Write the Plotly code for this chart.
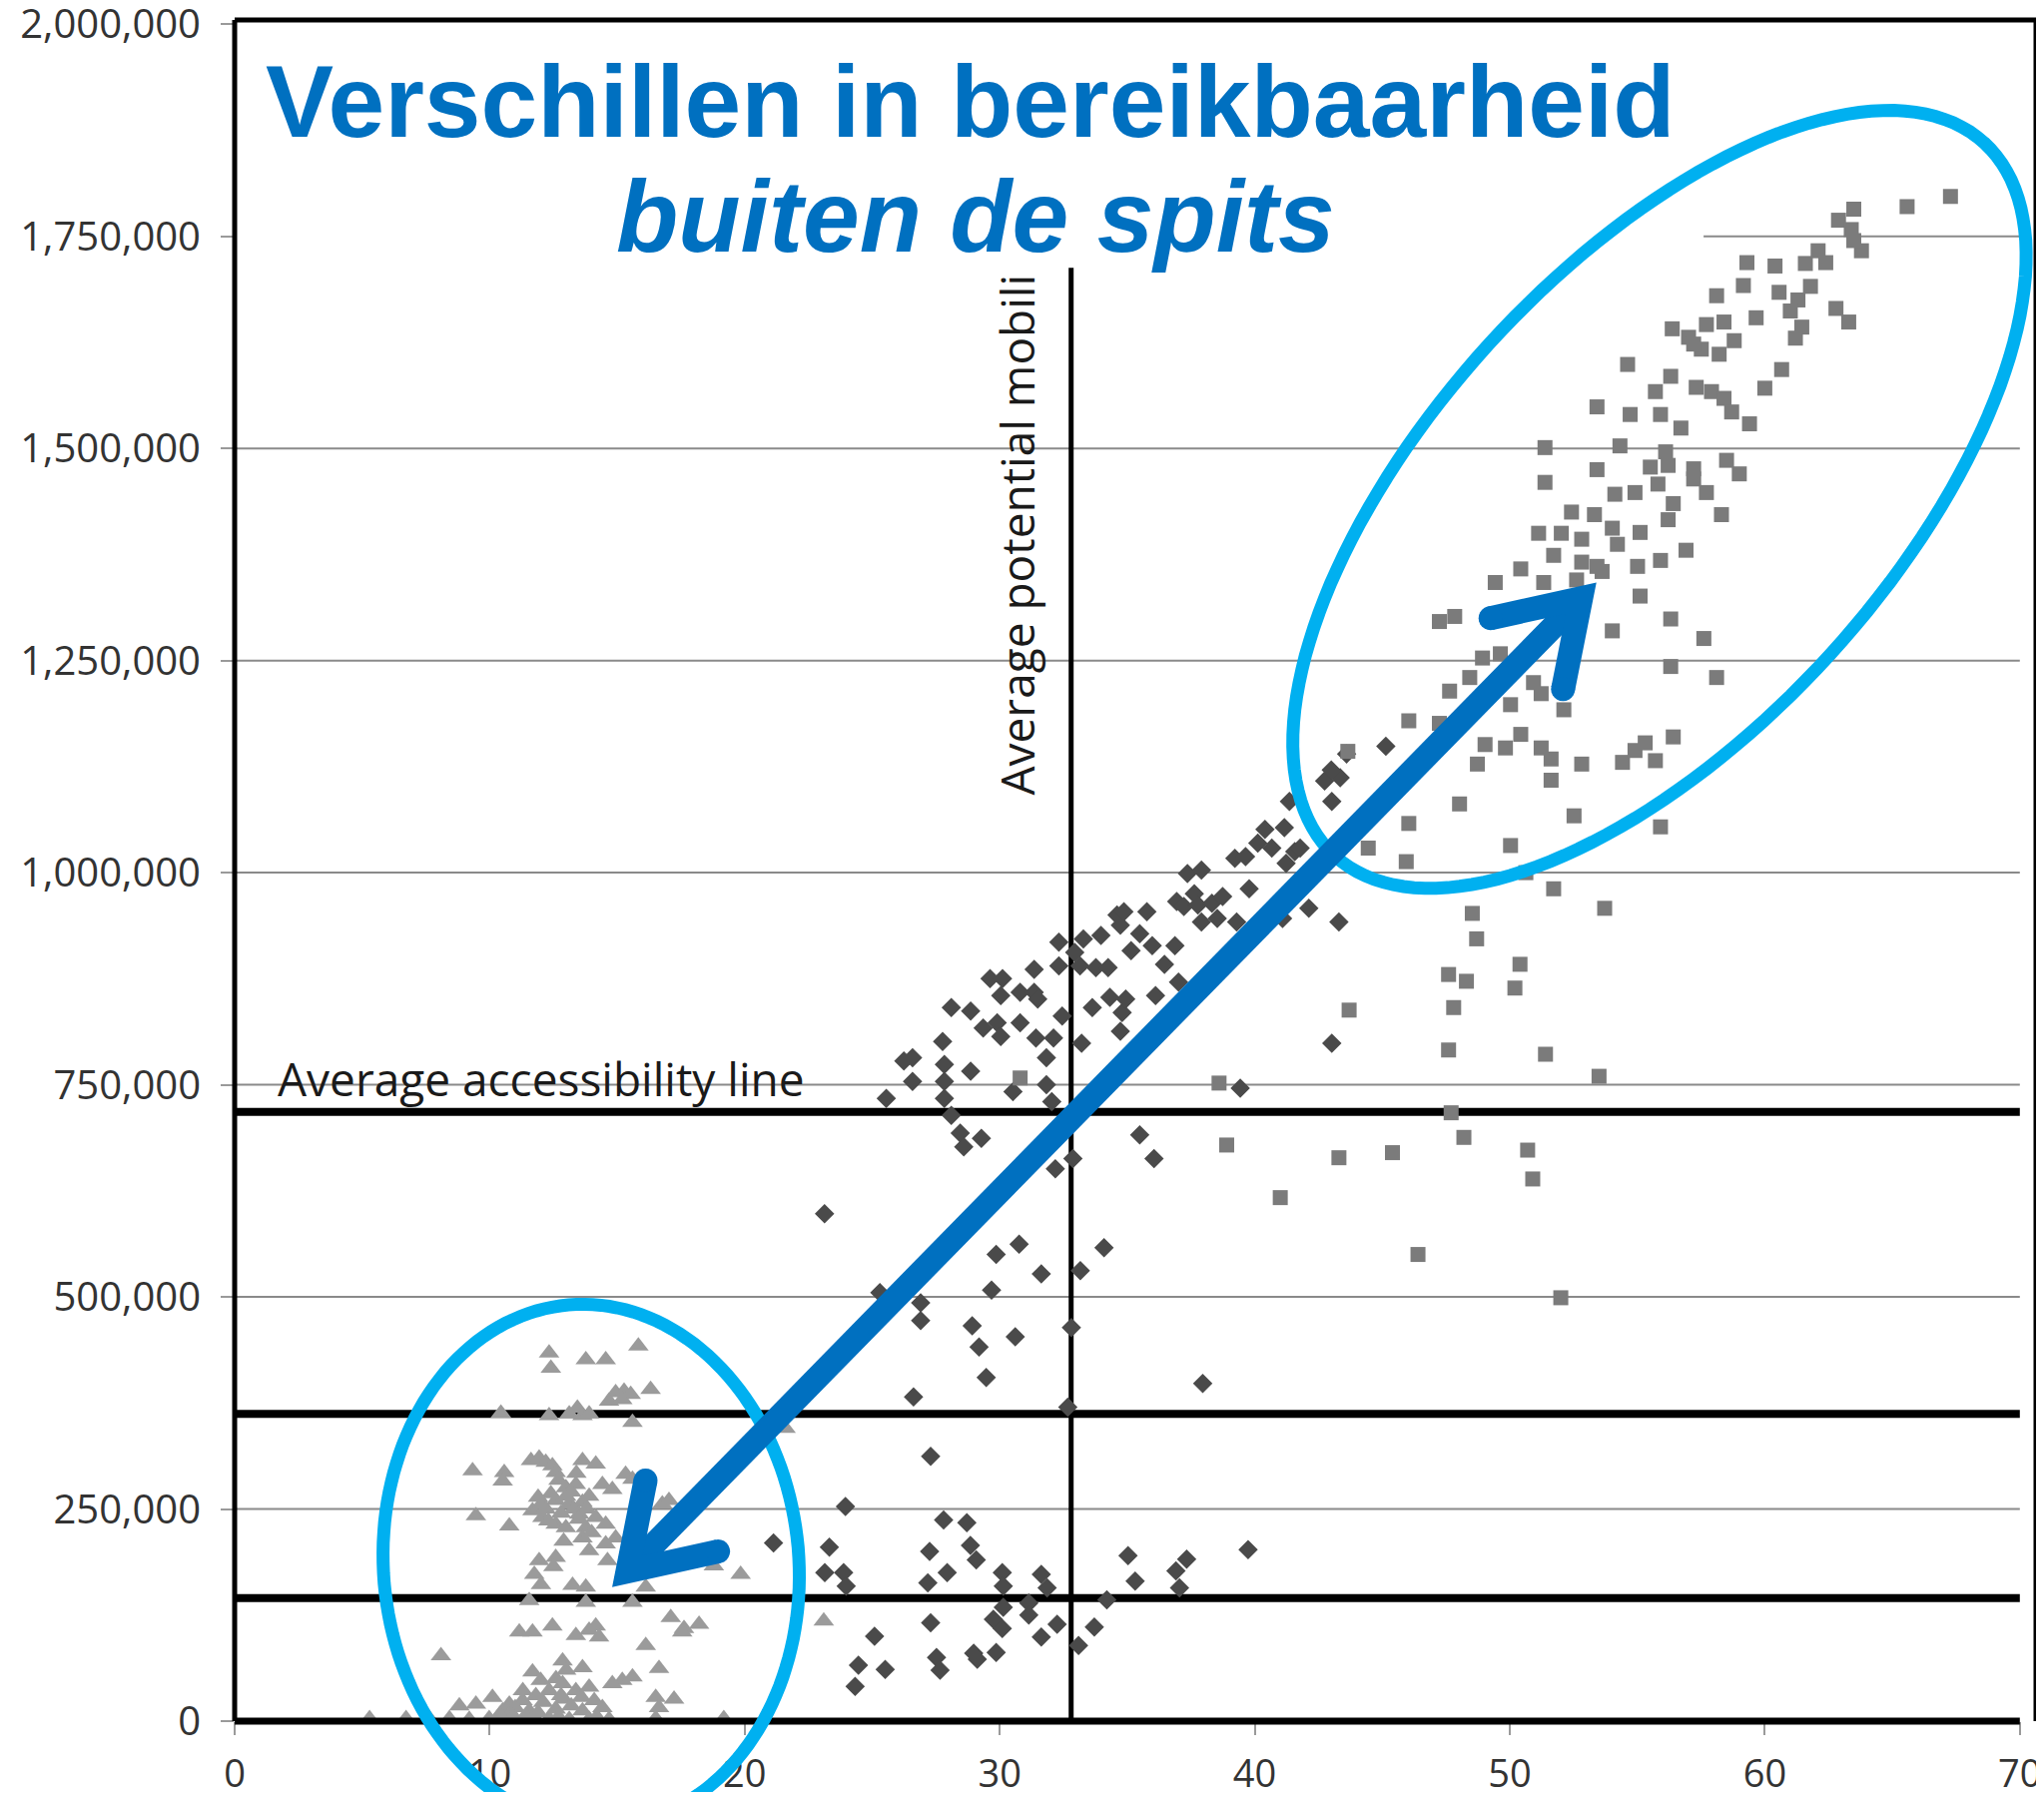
import math

import plotly.graph_objects as go

# ── Data (x = accessibility index, y in thousands of persons) ──────────────────
TRI_X = [12.33, 12.40, 13.77, 14.55, 15.83,
         16.31, 14.94, 15.27, 15.53, 14.68, 15.20,
         10.44, 12.33, 13.12, 13.44, 13.64, 13.90, 15.60,
         9.33, 10.57, 10.51, 11.62, 11.94, 12.20, 12.46, 12.59, 13.64, 14.16, 14.42, 14.81, 15.33, 15.60,
         9.46, 10.77, 11.68, 12.07, 12.59, 12.99, 13.38, 13.12, 13.64, 12.59, 12.99, 13.51, 13.77, 14.16,
         14.55, 13.64, 13.90, 14.55, 14.62, 14.94, 16.77, 17.03,
         11.94, 12.59, 11.75, 12.01, 13.25, 13.77, 11.55, 13.77, 15.60, 16.12, 18.79, 19.84,
         11.16, 11.68, 12.46, 13.38, 13.90, 14.16, 14.29, 16.12, 17.10, 17.62, 18.21, 17.55,
         8.09, 11.68, 12.86, 13.64, 15.20, 15.60, 16.64, 14.81,
         8.81, 9.46, 10.11, 10.77, 11.29, 11.81, 12.33, 12.86, 13.38, 13.90, 14.42, 10.51, 11.55, 12.59,
         13.64, 16.51, 17.23, 16.64,
         5.29, 6.72, 7.64, 8.42, 9.20, 9.98, 11.03, 11.81, 12.33, 13.12, 13.90, 14.68, 16.51, 19.18,
         12.2, 12.8, 13.3, 12.4, 13.0, 13.8, 12.0, 13.5, 14.0,
         10.4, 11.0, 11.9, 12.1, 12.9, 13.2, 13.6, 14.1, 12.6, 13.0, 12.8, 10.9, 11.4, 12.7, 14.2,
         23.1, 21.6,
         12.7, 13.2, 12.3, 13.9, 12.9, 11.9, 13.4, 12.5, 11.3, 12.0]
TRI_Y_K = [434, 416, 426, 426, 442,
           391, 387, 389, 385, 377, 379,
           363, 360, 362, 369, 360, 362, 352,
           295, 293, 283, 307, 310, 305, 301, 293, 307, 303, 279, 273, 291, 285,
           242, 230, 248, 240, 260, 275, 279, 256, 258, 232, 228, 244, 228, 240,
           232, 216, 201, 209, 189, 216, 256, 260,
           189, 193, 173, 161, 160, 158, 142, 140, 140, 158, 183, 173,
           105, 105, 112, 101, 107, 112, 99, 89, 122, 109, 114, 105,
           77, 58, 71, 63, 48, 52, 62, 44,
           18, 20, 28, 20, 24, 30, 36, 44, 36, 40, 16, 12, 12, 14,
           12, 28, 26, 16,
           3, 3, 3, 3, 2, 3, 2, 2, 3, 2, 2, 2, 3, 3,
           250, 245, 250, 268, 265, 250, 255, 238, 222,
           8, 16, 10, 22, 26, 18, 28, 24, 50, 60, 30, 5, 6, 5, 5,
           118, 345,
           284, 270, 236, 265, 212, 264, 292, 182, 36, 48]

DIA_X = [25.55, 26.24, 26.58, 26.58, 27.76, 27.83, 27.83, 27.83, 28.10, 28.10, 28.86, 28.86, 28.45,
         28.59, 29.28, 29.35, 29.62, 29.90, 30.04, 30.04, 30.11, 30.52, 30.80, 30.80, 31.35, 31.35,
         31.49, 31.42, 31.83, 31.83, 32.04, 32.11, 32.18, 32.32, 32.32, 32.45, 32.87, 32.94, 33.15,
         33.21, 33.28, 33.63, 33.77, 33.97, 34.25, 34.32, 34.60, 34.73, 34.80, 34.87, 34.73, 34.94,
         35.15, 35.49, 35.49, 35.77, 35.98, 36.05, 36.11, 36.46, 36.87, 37.01, 36.94, 37.22, 37.36,
         37.63, 37.77, 37.91, 37.91, 38.32, 38.53, 38.74, 39.22, 39.29, 39.64, 39.78, 40.12, 40.40,
         40.67, 41.16, 41.23, 41.57, 41.36, 41.78, 42.12, 42.74, 43.02, 43.02, 43.30, 39.43, 41.09,
         23.13, 45.14, 43.35, 43.6, 43.0,
         25.30, 26.90, 26.90, 28.92, 29.19, 29.47, 26.62, 29.68, 29.86, 30.76, 30.61, 31.63, 33.16,
         34.09, 32.81, 32.67, 37.96, 27.29, 23.95, 21.13, 23.32, 23.14, 23.88, 23.98, 27.25, 27.18,
         27.94, 27.80, 28.71, 28.85, 29.08, 30.10, 30.14, 30.14, 29.75, 30.10, 31.14, 31.14, 31.63,
         31.86, 32.25, 31.63, 33.09, 33.71, 34.20, 35.03, 35.31, 36.91, 37.33, 37.05, 39.74, 27.29,
         25.09, 24.46, 25.51, 24.33, 27.52, 27.66, 28.98, 29.12, 29.86]
DIA_Y_K = [734, 778, 782, 754, 801, 774, 754, 734, 714, 841, 837, 766, 693,
           677, 687, 817, 875, 823, 855, 807, 875, 742, 823, 859, 886, 859,
           851, 805, 782, 750, 730, 805, 651, 918, 890, 831, 663, 906, 890,
           799, 922, 841, 888, 926, 888, 853, 950, 938, 835, 954, 813, 851,
           908, 928, 691, 954, 914, 663, 855, 892, 914, 871, 966, 960, 999,
           975, 962, 1003, 942, 964, 946, 972, 1017, 942, 1019, 981, 1035, 1051,
           1029, 1053, 1011, 1025, 1084, 1029, 958, 1108, 1084, 799, 942, 746, 946,
           598, 1149, 1112, 1140, 1121,
           505, 493, 472, 466, 441, 405, 382, 508, 550, 562, 453, 527, 531,
           558, 464, 370, 398, 312, 253, 210, 205, 175, 175, 159, 200, 163,
           175, 237, 234, 207, 190, 175, 159, 134, 120, 109, 139, 125, 173,
           157, 114, 99, 89, 111, 143, 195, 165, 177, 191, 157, 202, 116,
           100, 66, 61, 41, 75, 60, 80, 73, 81]

SQ_X = [67.28, 65.58, 63.49, 62.89, 63.39, 63.79, 63.49, 59.30, 60.40, 61.59, 62.09, 62.39, 58.11,
        59.16, 60.56, 61.79, 61.30, 59.66, 61.00, 62.79, 63.29, 61.45, 61.20, 56.37, 57.01, 57.71,
        58.40, 58.80, 57.51, 58.21, 57.21, 54.62, 60.66, 60.00, 56.31, 55.71, 57.31, 57.91, 58.40,
        58.70, 59.40, 53.42, 54.72, 55.91, 56.71, 51.38, 54.32, 56.11, 55.51, 56.21, 57.21, 58.50,
        59.00, 53.42, 51.38, 55.81, 57.21, 57.71, 54.12, 54.91, 56.41, 56.21, 58.30, 52.42, 53.32,
        51.13, 52.02, 54.02, 55.11, 51.72, 52.82, 54.22, 53.42, 52.82, 53.62, 55.01, 55.91, 56.91,
        50.43, 49.43, 51.33, 52.62, 55.11, 47.24, 47.84, 56.31, 54.02, 57.61, 48.93, 49.63, 48.43,
        47.64, 50.93, 51.23, 52.12, 56.31, 58.11, 50.03, 46.04, 47.24, 43.65, 49.03, 49.83, 50.43,
        51.23, 51.62, 48.73, 52.82, 54.42, 54.91, 55.31, 56.41, 55.71, 51.62, 48.03, 46.04, 52.52,
        55.91, 44.45, 50.03, 45.94, 50.63, 51.72, 48.53, 53.72,
        48.7, 50.4, 47.6, 48.3, 50.2, 43.7, 47.8, 47.6, 51.4, 53.5, 47.7, 48.2, 38.9, 43.3, 45.4,
        50.7, 50.9, 41.0, 46.4, 52.0, 30.8, 38.6]
SQ_Y_K = [1797, 1785, 1782, 1769, 1758, 1733, 1745, 1719, 1715, 1718, 1733, 1719, 1680,
          1692, 1684, 1691, 1675, 1654, 1662, 1665, 1649, 1643, 1630, 1641, 1631, 1646,
          1649, 1627, 1617, 1611, 1623, 1599, 1593, 1571, 1585, 1567, 1572, 1567, 1559,
          1543, 1529, 1549, 1540, 1540, 1524, 1501, 1503, 1496, 1478, 1480, 1476, 1486,
          1470, 1475, 1460, 1458, 1464, 1448, 1446, 1448, 1435, 1416, 1422, 1425, 1422,
          1400, 1400, 1406, 1401, 1374, 1393, 1387, 1361, 1366, 1355, 1361, 1368, 1380,
          1358, 1342, 1342, 1345, 1326, 1296, 1302, 1299, 1285, 1276, 1253, 1258, 1230,
          1214, 1224, 1211, 1192, 1243, 1230, 1198, 1179, 1176, 1143, 1151, 1147, 1163,
          1147, 1134, 1128, 1128, 1130, 1144, 1153, 1160, 1132, 1109, 1081, 1058, 1067,
          1054, 1029, 1032, 1013, 1000, 981, 952, 958,
          922, 892, 880, 872, 864, 838, 841, 791, 786, 760, 717, 688, 679, 664, 670,
          673, 639, 617, 550, 499, 758, 752]

AVG_ACCESS = 718000            # "Average accessibility line"
BAND_LINES = [362000, 145000]  # other heavy horizontal lines
AVG_MOBILITY = 32.8            # "Average potential mobility" (vertical)
GRID_Y = [250000, 500000, 750000, 1000000, 1250000, 1500000, 1750000]
Y_TICKS = [0, 250000, 500000, 750000, 1000000, 1250000, 1500000, 1750000, 2000000]
X_TICKS = [0, 10, 20, 30, 40, 50, 60, 70]

# ── Style ──────────────────────────────────────────────────────────────────────
# the page body adds an 8px margin, so the figure is 16px smaller than the window
W, H = 2031, 1787
M_L, M_R, M_T, M_B = 227, 0, 12, 71
PLOT_W = W - M_L - M_R
PLOT_H = H - M_T - M_B
X_MAX = PLOT_W / 25.54
Y_MAX = 2005000

BLUE = "#0070C0"
CYAN = "#00B0F0"
GRID = "#8a8a8a"
TICK_FONT = dict(family="Open Sans", size=40, color="#333333")
LABEL_FONT = dict(family="Open Sans", size=46, color="#1a1a1a")


def px(x, y):
    """data -> pixel offsets from the plot's bottom-left corner (y up)."""
    return x / X_MAX * PLOT_W, y / Y_MAX * PLOT_H


def pix_shape(path, **line):
    return dict(type="path", path=path, xref="paper", yref="paper",
                xsizemode="pixel", ysizemode="pixel", xanchor=0, yanchor=0,
                layer="above", **line)


def ellipse_path(cx, cy, a, b, deg, n=160):
    cxp, cyp = px(cx, cy)
    th = math.radians(deg)
    pts = []
    for i in range(n):
        t = 2 * math.pi * i / n
        ex, ey = a * math.cos(t), b * math.sin(t)
        pts.append((cxp + ex * math.cos(th) - ey * math.sin(th),
                    cyp + ex * math.sin(th) + ey * math.cos(th)))
    return "M " + " L ".join(f"{x:.1f},{y:.1f}" for x, y in pts) + " Z"


def circle_path(x, y, r, n=24):
    return "M " + " L ".join(
        f"{x + r * math.cos(2 * math.pi * i / n):.1f},{y + r * math.sin(2 * math.pi * i / n):.1f}"
        for i in range(n)) + " Z"


fig = go.Figure()

fig.add_trace(go.Scatter(
    x=TRI_X, y=[v * 1000 for v in TRI_Y_K], mode="markers", cliponaxis=False,
    marker=dict(symbol="triangle-up", size=18, color="#9b9b9b", line=dict(width=0)),
    hoverinfo="skip", showlegend=False))
fig.add_trace(go.Scatter(
    x=DIA_X, y=[v * 1000 for v in DIA_Y_K], mode="markers", cliponaxis=False,
    marker=dict(symbol="diamond", size=15, color="#4a4a4a", line=dict(width=0)),
    hoverinfo="skip", showlegend=False))
fig.add_trace(go.Scatter(
    x=SQ_X, y=[v * 1000 for v in SQ_Y_K], mode="markers", cliponaxis=False,
    marker=dict(symbol="square", size=15, color="#7b7b7b", line=dict(width=0)),
    hoverinfo="skip", showlegend=False))

shapes = []

# thin gridlines (the top one is hidden behind the title box up to x≈57.6)
for g in GRID_Y:
    x0 = 57.6 if g == 1750000 else 0
    shapes.append(dict(type="line", xref="x", yref="y", x0=x0, x1=70, y0=g, y1=g,
                       line=dict(color=GRID, width=2), layer="below"))

# heavy reference lines
for yv in [AVG_ACCESS] + BAND_LINES:
    shapes.append(dict(type="line", xref="x", yref="y", x0=0, x1=70, y0=yv, y1=yv,
                       line=dict(color="black", width=8), layer="below"))
shapes.append(dict(type="line", xref="x", yref="y", x0=AVG_MOBILITY, x1=AVG_MOBILITY,
                   y0=0, y1=1713000, line=dict(color="black", width=5), layer="below"))

# frame
shapes += [
    dict(type="line", xref="paper", yref="paper", x0=0, x1=0, y0=0, y1=1,
         line=dict(color="black", width=5)),
    dict(type="line", xref="paper", yref="paper", x0=0, x1=1, y0=1, y1=1,
         line=dict(color="black", width=5)),
    dict(type="line", xref="paper", yref="paper", x0=1, x1=1, y0=0, y1=1,
         line=dict(color="black", width=5)),
    dict(type="line", xref="x", yref="paper", x0=0, x1=70, y0=0, y1=0,
         line=dict(color="black", width=7)),
]

# highlight ellipses
shapes.append(pix_shape(ellipse_path(55.87, 1440000, 483, 231, 47.7),
                        line=dict(color=CYAN, width=13)))
shapes.append(pix_shape(ellipse_path(13.98, 183500, 208, 262, 5),
                        line=dict(color=CYAN, width=13)))

# double-headed arrow (tips are the visible points; the miter join sticks out
# past the path vertex, so vertices sit a little behind the tips)
ARROW_FROM = (14.8, 158000)
ARROW_TO = (53.4, 1342000)
LW, MITER = 24, 22
ax0, ay0 = px(*ARROW_FROM)
ax1, ay1 = px(*ARROW_TO)
ang = math.atan2(ay1 - ay0, ax1 - ax0)
ux, uy = math.cos(ang), math.sin(ang)
v0 = (ax0 + MITER * ux, ay0 + MITER * uy)
v1 = (ax1 - MITER * ux, ay1 - MITER * uy)
shapes.append(pix_shape(
    f"M {v0[0] + 12 * ux:.1f},{v0[1] + 12 * uy:.1f} L {v1[0] - 12 * ux:.1f},{v1[1] - 12 * uy:.1f}",
    line=dict(color=BLUE, width=LW)))
HEAD_LEN, HEAD_ANG = 112, math.radians(27)
for (tx, ty), (vx, vy), d in [((ax1, ay1), v1, ang + math.pi), ((ax0, ay0), v0, ang)]:
    b1 = (tx + HEAD_LEN * math.cos(d + HEAD_ANG), ty + HEAD_LEN * math.sin(d + HEAD_ANG))
    b2 = (tx + HEAD_LEN * math.cos(d - HEAD_ANG), ty + HEAD_LEN * math.sin(d - HEAD_ANG))
    shapes.append(pix_shape(
        f"M {b1[0]:.1f},{b1[1]:.1f} L {vx:.1f},{vy:.1f} L {b2[0]:.1f},{b2[1]:.1f}",
        line=dict(color=BLUE, width=LW)))
    for bx, by in (b1, b2):
        shapes.append(pix_shape(circle_path(bx, by, LW / 2), fillcolor=BLUE,
                                line=dict(width=0)))

annotations = [
    dict(x=28.86, y=1909000, xref="x", yref="y", showarrow=False,
         text="<b>Verschillen in bereikbaarheid</b>",
         font=dict(family="Liberation Sans", size=102, color=BLUE),
         xanchor="center", yanchor="middle"),
    dict(x=29.05, y=1773000, xref="x", yref="y", showarrow=False,
         text="<b><i>buiten de spits</i></b>",
         font=dict(family="Liberation Sans", size=102, color=BLUE),
         xanchor="center", yanchor="middle"),
    dict(x=1.6, y=758000, xref="x", yref="y", showarrow=False,
         text="Average accessibility line", font=LABEL_FONT,
         xanchor="left", yanchor="middle"),
    dict(x=30.66, y=1089000, xref="x", yref="y", showarrow=False,
         text="Average potential mobili", textangle=-90, font=LABEL_FONT,
         xanchor="center", yanchor="bottom"),
]

fig.update_layout(
    width=W, height=H,
    margin=dict(l=M_L, r=M_R, t=M_T, b=M_B, pad=0, autoexpand=False),
    plot_bgcolor="white", paper_bgcolor="white",
    shapes=shapes, annotations=annotations,
    xaxis=dict(range=[0, X_MAX], tickvals=X_TICKS, ticktext=[str(v) for v in X_TICKS],
               showgrid=False, zeroline=False, showline=False, automargin=False,
               ticks="outside", ticklen=13, tickwidth=2, tickcolor="#9a9a9a",
               ticklabelstandoff=6, ticklabeloverflow="allow",
               tickfont=dict(family="Open Sans", size=38, color="#333333")),
    yaxis=dict(range=[0, Y_MAX], tickvals=Y_TICKS, tickformat=",d",
               showgrid=False, zeroline=False, showline=False, automargin=False,
               ticks="outside", ticklen=13, tickwidth=2, tickcolor="#9a9a9a",
               ticklabelstandoff=12, ticklabeloverflow="allow", tickfont=TICK_FONT),
)

fig.write_html("out.html")
